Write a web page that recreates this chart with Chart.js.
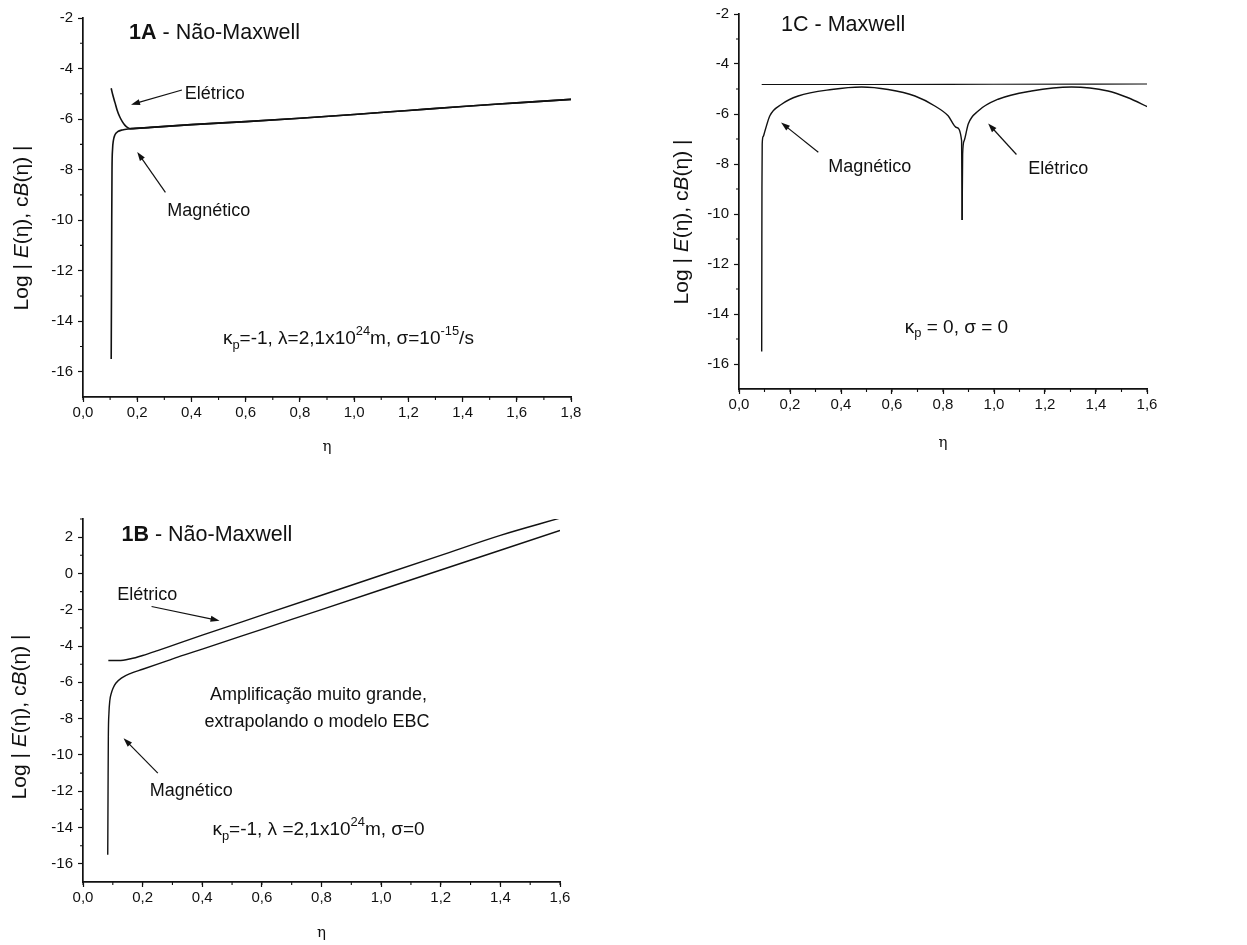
<!DOCTYPE html>
<html>
<head>
<meta charset="utf-8">
<script src="https://cdn.jsdelivr.net/npm/chart.js@4.4.1/dist/chart.umd.min.js"></script>
<style>
  html, body { margin: 0; padding: 0; background: #fff; }
  body { width: 1247px; height: 945px; position: relative; overflow: hidden; }
  canvas { position: absolute; }
</style>
</head>
<body>
<canvas id="chart1A" width="610" height="462" style="left:0px;top:0px"></canvas>
<canvas id="chart1C" width="607" height="462" style="left:640px;top:0px"></canvas>
<canvas id="chart1B" width="620" height="475" style="left:0px;top:470px"></canvas>
<script>
// ---- data (eta, log10 of field) ----

// 1A - Nao-Maxwell
const eta1A_mag = [0.104, 0.105, 0.106, 0.107, 0.109, 0.112, 0.118, 0.128, 0.145, 0.17, 0.25, 0.4, 0.6, 0.8, 1.0, 1.2, 1.4, 1.6, 1.8];
const log1A_mag = [-15.5, -13, -10, -8, -7.2, -6.85, -6.62, -6.5, -6.43, -6.39, -6.33, -6.22, -6.1, -5.97, -5.82, -5.66, -5.5, -5.36, -5.22];
const eta1A_ele = [0.104, 0.11, 0.118, 0.126, 0.135, 0.145, 0.155, 0.165, 0.175, 0.25, 0.4, 0.6, 0.8, 1.0, 1.2, 1.4, 1.6, 1.8];
const log1A_ele = [-4.78, -5.05, -5.35, -5.65, -5.9, -6.1, -6.25, -6.34, -6.38, -6.33, -6.22, -6.1, -5.97, -5.82, -5.66, -5.5, -5.36, -5.22];

// 1C - Maxwell
const eta1C_mag = [0.089, 0.0895, 0.090, 0.091, 0.095, 0.102, 0.121, 0.167, 0.232, 0.363, 0.481, 0.585, 0.69, 0.768, 0.82, 0.853, 0.873, 0.875];
const log1C_mag = [-15.5, -12, -9, -7.2, -6.9, -6.67, -6.07, -5.61, -5.28, -5.02, -4.92, -5.02, -5.28, -5.68, -6.07, -6.54, -7.07, -10.24];
const eta1C_ele = [0.875, 0.877, 0.883, 0.899, 0.938, 1.016, 1.147, 1.304, 1.447, 1.526, 1.604];
const log1C_ele = [-10.24, -7.6, -7.07, -6.4, -5.88, -5.41, -5.08, -4.92, -5.08, -5.35, -5.72];
const eta1C_flat = [0.089, 0.5, 1.0, 1.6];
const log1C_flat = [-4.82, -4.82, -4.81, -4.80];

// 1B - Nao-Maxwell
const eta1B_ele = [0.085, 0.12, 0.16, 0.2, 0.25, 0.32, 0.4, 0.6, 0.8, 1.0, 1.2, 1.4, 1.6];
const log1B_ele = [-4.8, -4.8, -4.7, -4.52, -4.25, -3.85, -3.4, -2.3, -1.2, -0.1, 1.0, 2.1, 3.05];
const eta1B_mag = [0.083, 0.084, 0.085, 0.087, 0.09, 0.095, 0.1, 0.11, 0.13, 0.16, 0.2, 0.25, 0.32, 0.4, 0.6, 0.8, 1.0, 1.2, 1.4, 1.6];
const log1B_mag = [-15.5, -12, -9, -7.7, -7.0, -6.6, -6.35, -6.05, -5.75, -5.5, -5.28, -5.0, -4.6, -4.17, -3.08, -1.99, -0.9, 0.19, 1.28, 2.37];

// tick labels
const xTicks18 = [0, 0.2, 0.4, 0.6, 0.8, 1.0, 1.2, 1.4, 1.6, 1.8];
const xTicks16 = [0, 0.2, 0.4, 0.6, 0.8, 1.0, 1.2, 1.4, 1.6];
const yTicksTop = [-16, -14, -12, -10, -8, -6, -4, -2];
const yTicksB = [-16, -14, -12, -10, -8, -6, -4, -2, 0, 2];

const FONT = '"Liberation Sans", Arial, sans-serif';
const INK = '#111';

function pts(xs, ys) {
    return xs.map((x, i) => ({ x: x, y: ys[i] }));
}

function line(label, xs, ys, w) {
    return {
        label: label,
        data: pts(xs, ys),
        showLine: true,
        borderColor: INK,
        borderWidth: w || 1.4,
        pointRadius: 0,
        cubicInterpolationMode: 'monotone',
        fill: false
    };
}

// text with bold / italic / super / subscript parts
function drawRich(ctx, parts, x, y, size, align, rot) {
    const fontFor = st => {
        const s = (st === 'sup' || st === 'sub') ? size * 0.68 : size;
        return (st === 'i' ? 'italic ' : '') + (st === 'b' ? 'bold ' : '') + s + 'px ' + FONT;
    };
    let total = 0;
    parts.forEach(([t, st]) => { ctx.font = fontFor(st); total += ctx.measureText(t).width; });
    ctx.save();
    ctx.translate(x, y);
    if (rot) ctx.rotate(rot);
    let cx = align === 'center' ? -total / 2 : 0;
    ctx.textAlign = 'left';
    ctx.textBaseline = 'middle';
    ctx.fillStyle = INK;
    parts.forEach(([t, st]) => {
        ctx.font = fontFor(st);
        const dy = st === 'sup' ? -size * 0.4 : (st === 'sub' ? size * 0.32 : 0);
        ctx.fillText(t, cx, dy);
        cx += ctx.measureText(t).width;
    });
    ctx.restore();
}

function drawArrow(ctx, x1, y1, x2, y2) {
    const a = Math.atan2(y2 - y1, x2 - x1), L = 9, W = 3;
    ctx.beginPath();
    ctx.moveTo(x1, y1);
    ctx.lineTo(x2 - L * 0.6 * Math.cos(a), y2 - L * 0.6 * Math.sin(a));
    ctx.stroke();
    ctx.beginPath();
    ctx.moveTo(x2, y2);
    ctx.lineTo(x2 - L * Math.cos(a) + W * Math.sin(a), y2 - L * Math.sin(a) - W * Math.cos(a));
    ctx.lineTo(x2 - L * Math.cos(a) - W * Math.sin(a), y2 - L * Math.sin(a) + W * Math.cos(a));
    ctx.closePath();
    ctx.fill();
}

// minor ticks, y title, labels and arrows
function decoPlugin(deco, ax) {
    return {
        id: 'deco',
        afterDraw(chart) {
            const ctx = chart.ctx, xs = chart.scales.x, ys = chart.scales.y, area = chart.chartArea;
            ctx.save();
            ctx.strokeStyle = INK;
            ctx.fillStyle = INK;
            ctx.lineWidth = 1.1;
            ctx.beginPath();
            for (let v = xs.min; v <= xs.max + 1e-9; v += deco.xMinor) {
                const px = xs.getPixelForValue(v);
                ctx.moveTo(px, area.bottom);
                ctx.lineTo(px, area.bottom + 3);
            }
            for (let v = ys.min + deco.yMinor; v <= ys.max + 1e-9; v += deco.yMinor) {
                if (ax.yTicks.includes(Math.round(v))) continue;
                const py = ys.getPixelForValue(v);
                ctx.moveTo(area.left, py);
                ctx.lineTo(area.left - 3, py);
            }
            ctx.stroke();

            drawRich(ctx, [['Log | ', ''], ['E', 'i'], ['(η), c', ''], ['B', 'i'], ['(η) |', '']],
                deco.yTitle[0], deco.yTitle[1], 21, 'center', -Math.PI / 2);

            deco.texts.forEach(t => {
                drawRich(ctx, t.parts, xs.getPixelForValue(t.x), ys.getPixelForValue(t.y), t.size, t.align || 'left');
            });
            ctx.lineWidth = 1.2;
            deco.arrows.forEach(a => {
                drawArrow(ctx, xs.getPixelForValue(a[0]), ys.getPixelForValue(a[1]),
                    xs.getPixelForValue(a[2]), ys.getPixelForValue(a[3]));
            });
            ctx.restore();
        }
    };
}

function makeChart(id, datasets, ax, deco) {
    const tickFont = { family: FONT, size: 15 };
    return new Chart(document.getElementById(id), {
        type: 'scatter',
        data: { datasets: datasets },
        options: {
            responsive: false,
            animation: false,
            events: [],
            layout: { padding: { top: ax.padTop, right: ax.padRight, left: 0, bottom: 0 } },
            plugins: { legend: { display: false }, tooltip: { enabled: false } },
            scales: {
                x: {
                    type: 'linear',
                    min: ax.xMin, max: ax.xMax,
                    afterBuildTicks: s => { s.ticks = ax.xTicks.map(v => ({ value: v })); },
                    afterFit: s => { s.height = ax.xHeight; },
                    ticks: {
                        color: INK, font: tickFont, padding: 2, maxRotation: 0, autoSkip: false,
                        callback: v => v.toFixed(1).replace('.', ',')
                    },
                    grid: { drawOnChartArea: false, drawTicks: true, tickLength: 5, tickColor: INK, tickWidth: 1.2 },
                    border: { display: true, color: INK, width: 1.7 },
                    title: {
                        display: true, text: 'η', color: INK,
                        font: { family: '"DejaVu Serif", serif', size: 15 },
                        padding: { top: 0, bottom: ax.etaPad }
                    }
                },
                y: {
                    type: 'linear',
                    min: ax.yMin, max: ax.yMax,
                    afterBuildTicks: s => { s.ticks = ax.yTicks.map(v => ({ value: v })); },
                    afterFit: s => { s.width = ax.yWidth; },
                    ticks: { color: INK, font: tickFont, padding: 5, autoSkip: false, callback: v => String(v) },
                    grid: { drawOnChartArea: false, drawTicks: true, tickLength: 5, tickColor: INK, tickWidth: 1.2 },
                    border: { display: true, color: INK, width: 1.7 }
                }
            }
        },
        plugins: [decoPlugin(deco, ax)]
    });
}

// 1A
makeChart('chart1A', [
    line('Magnético', eta1A_mag, log1A_mag, 1.6),
    line('Elétrico', eta1A_ele, log1A_ele, 1.6)
], {
    xMin: 0, xMax: 1.8, yMin: -17, yMax: -2, xTicks: xTicks18, yTicks: yTicksTop,
    padTop: 18, padRight: 39, yWidth: 83, xHeight: 65, etaPad: 6
}, {
    xMinor: 0.1, yMinor: 1, yTitle: [22, 228],
    texts: [
        { x: 0.17, y: -2.6, size: 21.5, parts: [['1A', 'b'], [' - Não-Maxwell', '']] },
        { x: 0.375, y: -5.0, size: 18, parts: [['Elétrico', '']] },
        { x: 0.311, y: -9.62, size: 18, parts: [['Magnético', '']] },
        { x: 0.516, y: -14.7, size: 19, parts: [['κ', ''], ['p', 'sub'], ['=-1, λ=2,1x10', ''], ['24', 'sup'], ['m, σ=10', ''], ['-15', 'sup'], ['/s', '']] }
    ],
    arrows: [[0.365, -4.85, 0.177, -5.43], [0.304, -8.9, 0.2, -7.3]]
});

// 1C
makeChart('chart1C', [
    line('Magnético', eta1C_mag, log1C_mag),
    line('Elétrico', eta1C_ele, log1C_ele),
    line('Envoltória', eta1C_flat, log1C_flat, 1.1)
], {
    xMin: 0, xMax: 1.6, yMin: -17, yMax: -2, xTicks: xTicks16, yTicks: yTicksTop,
    padTop: 12, padRight: 100, yWidth: 99, xHeight: 73, etaPad: 10
}, {
    xMinor: 0.1, yMinor: 1, yTitle: [42, 222],
    texts: [
        { x: 0.165, y: -2.44, size: 21.5, parts: [['1C - Maxwell', '']] },
        { x: 0.35, y: -8.12, size: 18, parts: [['Magnético', '']] },
        { x: 1.134, y: -8.19, size: 18, parts: [['Elétrico', '']] },
        { x: 0.65, y: -14.54, size: 19, parts: [['κ', ''], ['p', 'sub'], [' = 0, σ = 0', '']] }
    ],
    arrows: [[0.311, -7.53, 0.165, -6.34], [1.088, -7.62, 0.977, -6.38]]
});

// 1B
makeChart('chart1B', [
    line('Elétrico', eta1B_ele, log1B_ele),
    line('Magnético', eta1B_mag, log1B_mag)
], {
    xMin: 0, xMax: 1.6, yMin: -17, yMax: 3, xTicks: xTicks16, yTicks: yTicksB,
    padTop: 49, padRight: 60, yWidth: 83, xHeight: 63, etaPad: 3
}, {
    xMinor: 0.1, yMinor: 1, yTitle: [20, 247],
    texts: [
        { x: 0.129, y: 2.13, size: 21.5, parts: [['1B', 'b'], [' - Não-Maxwell', '']] },
        { x: 0.115, y: -1.18, size: 18, parts: [['Elétrico', '']] },
        { x: 0.79, y: -6.7, size: 18, align: 'center', parts: [['Amplificação muito grande,', '']] },
        { x: 0.785, y: -8.17, size: 18, align: 'center', parts: [['extrapolando o modelo EBC', '']] },
        { x: 0.224, y: -12.0, size: 18, parts: [['Magnético', '']] },
        { x: 0.434, y: -14.14, size: 19, parts: [['κ', ''], ['p', 'sub'], ['=-1, λ =2,1x10', ''], ['24', 'sup'], ['m, σ=0', '']] }
    ],
    arrows: [[0.23, -1.82, 0.458, -2.6], [0.251, -11.0, 0.136, -9.08]]
});
</script>
</body>
</html>
